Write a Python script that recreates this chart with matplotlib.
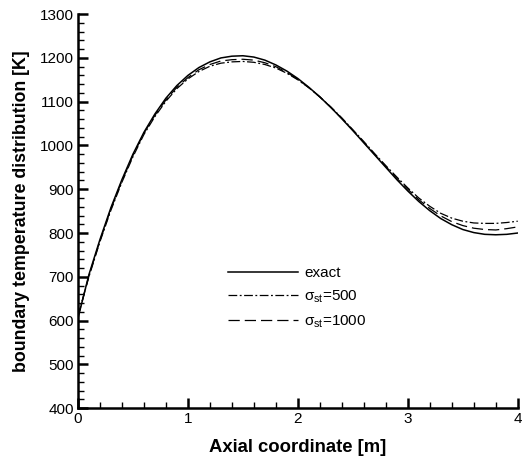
import numpy as np
import matplotlib.pyplot as plt

plt.rcParams['font.family'] = ['Liberation Sans', 'DejaVu Sans']
plt.rcParams['mathtext.fontset'] = 'custom'
plt.rcParams['mathtext.rm'] = 'Liberation Sans'
plt.rcParams['mathtext.it'] = 'Liberation Sans'

# axial coordinate [m]
x = [0.0, 0.1, 0.2, 0.3, 0.4, 0.5, 0.6, 0.7, 0.8, 0.9,
     1.0, 1.1, 1.2, 1.3, 1.4, 1.5, 1.6, 1.7, 1.8, 1.9,
     2.0, 2.1, 2.2, 2.3, 2.4, 2.5, 2.6, 2.7, 2.8, 2.9,
     3.0, 3.1, 3.2, 3.3, 3.4, 3.5, 3.6, 3.7, 3.8, 3.9, 4.0]

# boundary temperature [K]
exact = [605, 705, 785, 858, 922, 980, 1030, 1072, 1108, 1137,
         1160, 1178, 1191, 1200, 1204, 1205, 1202, 1195, 1184, 1170,
         1153, 1133, 1111, 1087, 1061, 1034, 1006, 978, 950, 922,
         896, 872, 851, 833, 819, 808, 801, 797, 796, 797, 800]
sig500 = [610, 700, 780, 852, 916, 974, 1025, 1066, 1101, 1130,
          1152, 1169, 1181, 1188, 1191, 1192, 1190, 1185, 1177, 1165,
          1150, 1132, 1111, 1088, 1063, 1036, 1009, 981, 954, 928,
          903, 880, 861, 845, 834, 827, 823, 822, 822, 824, 827]
sig1000 = [608, 702, 782, 855, 919, 977, 1028, 1069, 1104, 1133,
           1155, 1173, 1185, 1193, 1196, 1197, 1195, 1189, 1180, 1167,
           1151, 1132, 1111, 1087, 1062, 1035, 1007, 979, 952, 925,
           900, 876, 856, 839, 826, 817, 811, 808, 807, 810, 814]

fig = plt.figure(figsize=(5.23, 4.57), dpi=100)
ax = fig.add_axes([0.149, 0.107, 0.841, 0.862])

ax.plot(x, exact, color='black', lw=1.1, label='exact')
ax.plot(x, sig500, color='black', lw=0.9, dashes=[7, 2, 1.5, 2], label=r'$\sigma_{st}$=500')
ax.plot(x, sig1000, color='black', lw=0.9, dashes=[9, 4], label=r'$\sigma_{st}$=1000')

ax.set_xlim(0, 4)
ax.set_ylim(400, 1300)
ax.set_xticks([0, 1, 2, 3, 4])
ax.set_xticks(np.arange(0, 4.01, 0.2), minor=True)
ax.set_yticks(np.arange(400, 1301, 100))
ax.set_yticks(np.arange(400, 1301, 20), minor=True)

for s in ['top', 'right']:
    ax.spines[s].set_visible(False)
for s in ['left', 'bottom']:
    ax.spines[s].set_linewidth(1.8)

ax.tick_params(which='major', direction='in', length=7, width=1.8, labelsize=11, pad=3)
ax.tick_params(which='minor', direction='in', length=4, width=1.0)

ax.set_xlabel('Axial coordinate [m]', fontsize=13.3, fontweight='bold', labelpad=9)
ax.set_ylabel('boundary temperature distribution [K]', fontsize=12.8, fontweight='bold', labelpad=7)

ax.legend(loc='center left', bbox_to_anchor=(0.31, 0.28), frameon=False,
          fontsize=11, handlelength=4.6, labelspacing=0.55, handletextpad=0.4)

fig.savefig('out.png', dpi=100)
